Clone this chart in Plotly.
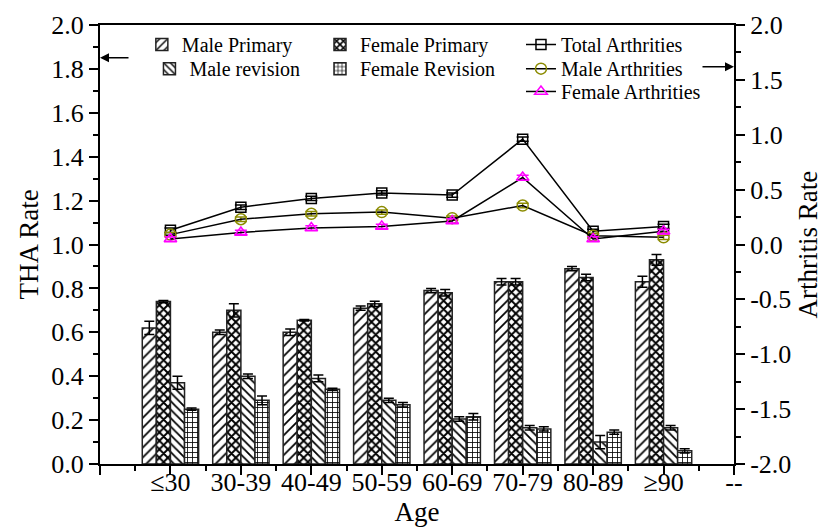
import plotly.graph_objects as go

# ---- data ----
categories = ["≤30", "30-39", "40-49", "50-59", "60-69", "70-79", "80-89", "≥90"]
x_pos = [1, 2, 3, 4, 5, 6, 7, 8]
x_tickvals = [0, 1, 2, 3, 4, 5, 6, 7, 8, 9]
x_ticktext = ["", "≤30", "30-39", "40-49", "50-59", "60-69", "70-79", "80-89", "≥90", "--"]

male_primary = [0.62, 0.60, 0.60, 0.71, 0.79, 0.83, 0.89, 0.83]
male_primary_err = [0.03, 0.01, 0.015, 0.01, 0.01, 0.015, 0.01, 0.025]
female_primary = [0.74, 0.70, 0.655, 0.73, 0.78, 0.83, 0.85, 0.93]
female_primary_err = [0.005, 0.03, 0.003, 0.012, 0.015, 0.015, 0.015, 0.025]
male_revision = [0.37, 0.40, 0.39, 0.29, 0.205, 0.165, 0.10, 0.165]
male_revision_err = [0.03, 0.01, 0.015, 0.01, 0.01, 0.01, 0.03, 0.01]
female_revision = [0.25, 0.29, 0.34, 0.27, 0.215, 0.16, 0.145, 0.06]
female_revision_err = [0.005, 0.02, 0.005, 0.01, 0.015, 0.01, 0.01, 0.01]

total_arth = [0.13, 0.34, 0.42, 0.47, 0.45, 0.96, 0.12, 0.165]
male_arth = [0.09, 0.23, 0.28, 0.295, 0.24, 0.355, 0.08, 0.065]
female_arth = [0.05, 0.11, 0.15, 0.165, 0.215, 0.61, 0.05, 0.12]
arth_err = [0.02, 0.02, 0.02, 0.02, 0.02, 0.02, 0.02, 0.02]

y_ticks = [0.0, 0.2, 0.4, 0.6, 0.8, 1.0, 1.2, 1.4, 1.6, 1.8, 2.0]
y2_ticks = [-2.0, -1.5, -1.0, -0.5, 0.0, 0.5, 1.0, 1.5, 2.0]
y2_ticktext = ["-2.0", "-1.5", "-1.0", "-0.5", "0.0", "0.5", "1.0", "1.5", "2.0"]

FONT = "Liberation Serif, Times New Roman, serif"

fig = go.Figure()

def add_bar(name, vals, errs, shape, size, sol, legend):
    fig.add_trace(go.Bar(
        x=x_pos, y=vals, name=name, legend=legend, showlegend=True,
        marker=dict(color="white", line=dict(color="#222", width=1.5),
                    pattern=dict(shape=shape, fgcolor="black", bgcolor="white",
                                 size=size, solidity=sol, fillmode="replace")),
        error_y=dict(type="data", array=errs, color="black", thickness=1.5, width=5),
    ))

add_bar("Male Primary", male_primary, male_primary_err, "/", 7, 0.25, "legend")
add_bar("Female Primary", female_primary, female_primary_err, "x", 6, 0.55, "legend3")
add_bar("Male revision", male_revision, male_revision_err, "\\", 6, 0.3, "legend2")
add_bar("Female Revision", female_revision, female_revision_err, "+", 5, 0.3, "legend4")

def add_line(name, vals, symbol, color, size, legend):
    fig.add_trace(go.Scatter(
        x=x_pos, y=vals, name=name, yaxis="y2", legend=legend, showlegend=True,
        mode="lines+markers",
        line=dict(color="black", width=1.5),
        marker=dict(symbol=symbol, size=size, color=color, line=dict(color=color, width=1.5)),
        error_y=dict(type="data", array=arth_err, color=color, thickness=1.5, width=6),
    ))

add_line("Total Arthrities", total_arth, "square-open", "black", 10, "legend5")
add_line("Male Arthrities", male_arth, "circle-open", "#8B8B00", 11, "legend6")
add_line("Female Arthrities", female_arth, "triangle-up-open", "#FF00FF", 11, "legend7")

axis_common = dict(showline=True, linecolor="black", linewidth=2, ticks="outside",
                   tickcolor="black", tickwidth=1.5, showgrid=False, zeroline=False,
                   automargin=False,
                   tickfont=dict(family=FONT, size=26, color="black"))

LEG_FONT = dict(family=FONT, size=20)

def leg(x, y):
    return dict(x=x, y=y, xanchor="left", yanchor="top", bgcolor="rgba(0,0,0,0)",
                font=LEG_FONT, tracegroupgap=0, itemwidth=30, visible=True)

ROW1, ROW2, ROW3 = 1.0, 0.945, 0.893

fig.update_layout(
    width=825, height=523,
    margin=dict(l=92, r=99, t=17, b=67),
    showlegend=True,
    paper_bgcolor="white", plot_bgcolor="white",
    barmode="group", bargap=0.2, bargroupgap=0,
    font=dict(family=FONT, color="black"),
    xaxis=dict(range=[0, 9], tickmode="array", tickvals=x_tickvals, ticktext=x_ticktext,
               ticklen=9, mirror=True, ticklabelstandoff=-15,
               minor=dict(tickvals=[0.5, 1.5, 2.5, 3.5, 4.5, 5.5, 6.5, 7.5, 8.5],
                          ticklen=5, ticks="outside", tickcolor="black", tickwidth=1.5),
               title=dict(text="Age", font=dict(family=FONT, size=27), standoff=0),
               **axis_common),
    yaxis=dict(range=[0, 2], tickmode="array", tickvals=y_ticks, tickformat=".1f",
               ticklen=9,
               minor=dict(dtick=0.1, tick0=0, ticklen=5, ticks="outside", tickcolor="black", tickwidth=1.5),
               title=dict(text="THA Rate", font=dict(family=FONT, size=27), standoff=5),
               **axis_common),
    yaxis2=dict(range=[-2, 2], overlaying="y", side="right", tickmode="array",
                tickvals=y2_ticks, ticktext=y2_ticktext, ticklen=9,
                minor=dict(dtick=0.25, tick0=0, ticklen=5, ticks="outside", tickcolor="black", tickwidth=1.5),
                title=dict(text="Arthritis Rate", font=dict(family=FONT, size=27), standoff=8),
                **axis_common),
    legend=leg(0.066, ROW1),
    legend2=leg(0.078, ROW2),
    legend3=leg(0.347, ROW1),
    legend4=leg(0.347, ROW2),
    legend5=leg(0.664, ROW1),
    legend6=leg(0.664, ROW2),
    legend7=leg(0.664, ROW3),
    annotations=[
        dict(xref="paper", yref="paper", x=0.0, y=0.9255, ax=30, ay=0, axref="pixel", ayref="pixel",
             text="", showarrow=True, arrowhead=2, arrowsize=1.2, arrowwidth=1.5, arrowcolor="black"),
        dict(xref="paper", yref="paper", x=1.0, y=0.905, ax=-33, ay=0, axref="pixel", ayref="pixel",
             text="", showarrow=True, arrowhead=2, arrowsize=1.2, arrowwidth=1.5, arrowcolor="black"),
    ],
)

fig.write_html("out.html")
